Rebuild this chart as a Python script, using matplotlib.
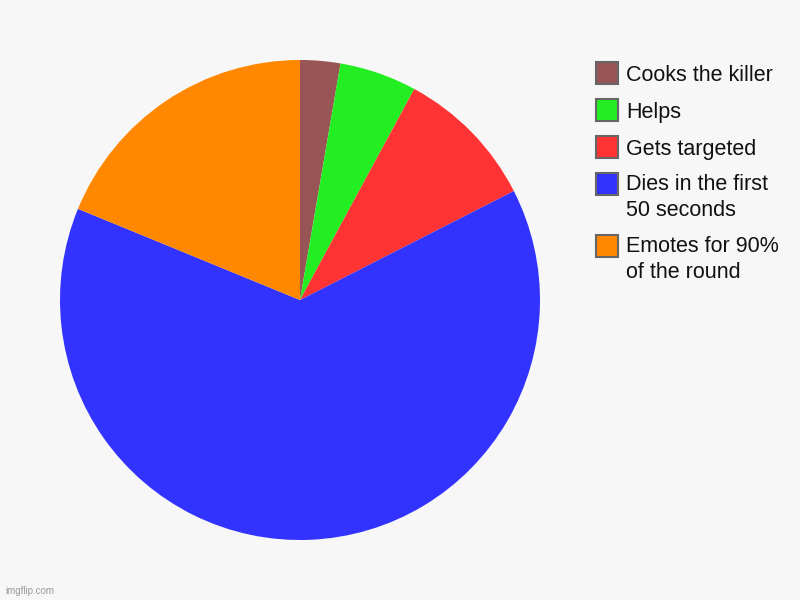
import matplotlib
matplotlib.use("Agg")
from matplotlib import pyplot as plt
from matplotlib.patches import Rectangle

# slice data (percent)
labels = ["Cooks the killer", "Helps", "Gets targeted",
          "Dies in the first\n50 seconds", "Emotes for 90%\nof the round"]
values = [2.7, 5.2, 9.6, 63.7, 18.8]
colors = ["#985555", "#22ee22", "#ff3333", "#3333ff", "#ff8800"]

plt.rcParams["font.family"] = ["Liberation Sans", "DejaVu Sans"]

W, H = 800, 600
fig = plt.figure(figsize=(8, 6), dpi=100, facecolor="#f7f7f7")
ax = fig.add_axes([60 / W, 60 / H, 480 / W, 480 / H])
ax.set_facecolor("#f7f7f7")

wedges, _ = ax.pie(values, colors=colors, startangle=90, counterclock=False,
                   radius=1, wedgeprops=dict(linewidth=0))
ax.set_xlim(-1, 1)
ax.set_ylim(-1, 1)
ax.set_aspect("equal")
ax.axis("off")

# legend drawn by hand so the box sits on the first text line
step = 24.5  # line step of wrapped labels, px
y = 72.5  # centre of the first entry, pixels from top
for lab, col in zip(labels, colors):
    n = lab.count("\n")
    fig.patches.append(Rectangle((595.5 / W, 1 - (y + 11) / H), 22 / W, 22 / H,
                                 facecolor=col, edgecolor="#666666",
                                 linewidth=1.5, transform=fig.transFigure))
    # baseline of the last line
    fig.text(626 / W, 1 - (y + 8.5 + step * n) / H, lab, fontsize=15.5,
             va="baseline", ha="left", color="#111111", linespacing=1.32)
    y += 37 + 25 * n

fig.text(5 / W, 1 - 591 / H, "imgflip.com", fontsize=7, color="#999999",
         va="center")

fig.savefig("out.png", dpi=100, facecolor=fig.get_facecolor())
